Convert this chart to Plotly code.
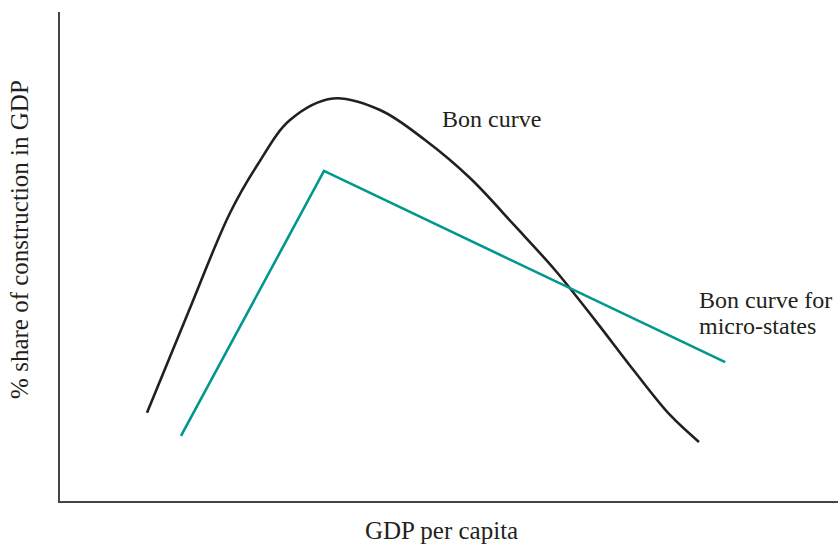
import plotly.graph_objects as go

# Conceptual chart (arbitrary units, 0-100 on both axes)
bon_x = [11.18, 16.45, 21.85, 25.45, 29.56, 35.09, 41.13, 46.92, 52.70, 58.48, 63.62, 68.77,
         73.91, 78.41, 82.13]
bon_y = [18.06, 38.45, 58.90, 68.92, 77.91, 82.31, 79.96, 73.82, 66.05, 56.24, 47.24, 36.99,
         26.38, 17.59, 12.07]

micro_x = [15.55, 33.93, 85.5]
micro_y = [13.3, 67.5, 28.4]

x_title = "GDP per capita"
y_title = "% share of construction in GDP"
label_bon = "Bon curve"
label_micro = ["Bon curve for", "micro-states"]

FONT = "Liberation Serif"
TXT = "#231f20"

fig = go.Figure()
fig.add_trace(go.Scatter(x=bon_x, y=bon_y, mode="lines",
                         line=dict(color=TXT, width=2.6, shape="spline", smoothing=1.0),
                         hoverinfo="skip"))
fig.add_trace(go.Scatter(x=micro_x, y=micro_y, mode="lines",
                         line=dict(color="#00978f", width=2.6),
                         hoverinfo="skip"))

fig.add_annotation(x=48.84, y=78.1, xref="x", yref="y", text=label_bon, showarrow=False,
                   xanchor="left", yanchor="middle", font=dict(family=FONT, size=24, color=TXT))
fig.add_annotation(x=81.88, y=41.1, xref="x", yref="y", text=label_micro[0], showarrow=False,
                   xanchor="left", yanchor="middle", font=dict(family=FONT, size=24, color=TXT))
fig.add_annotation(x=81.88, y=35.8, xref="x", yref="y", text=label_micro[1], showarrow=False,
                   xanchor="left", yanchor="middle", font=dict(family=FONT, size=24, color=TXT))

# axis titles
fig.add_annotation(x=0.491, y=-0.0613, xref="paper", yref="paper", text=x_title, showarrow=False,
                   xanchor="center", yanchor="middle", font=dict(family=FONT, size=25, color=TXT))
fig.add_annotation(x=-0.0514, y=0.534, xref="paper", yref="paper", text=y_title, showarrow=False,
                   textangle=-90, xanchor="center", yanchor="middle",
                   font=dict(family=FONT, size=25, color=TXT))

fig.update_layout(
    width=838, height=546,
    margin=dict(l=60, r=0, t=12, b=45),
    paper_bgcolor="white", plot_bgcolor="white",
    showlegend=False,
    font=dict(family=FONT, size=24, color=TXT),
    xaxis=dict(range=[0, 100], showgrid=False, zeroline=False, showticklabels=False, ticks="",
               showline=True, linecolor="#444444", linewidth=2, fixedrange=True),
    yaxis=dict(range=[0, 100], showgrid=False, zeroline=False, showticklabels=False, ticks="",
               showline=True, linecolor="#444444", linewidth=2, fixedrange=True),
)

fig.write_html("out.html", config={"displayModeBar": False},
               post_script="document.body.style.margin='0';document.body.style.overflow='hidden';")
